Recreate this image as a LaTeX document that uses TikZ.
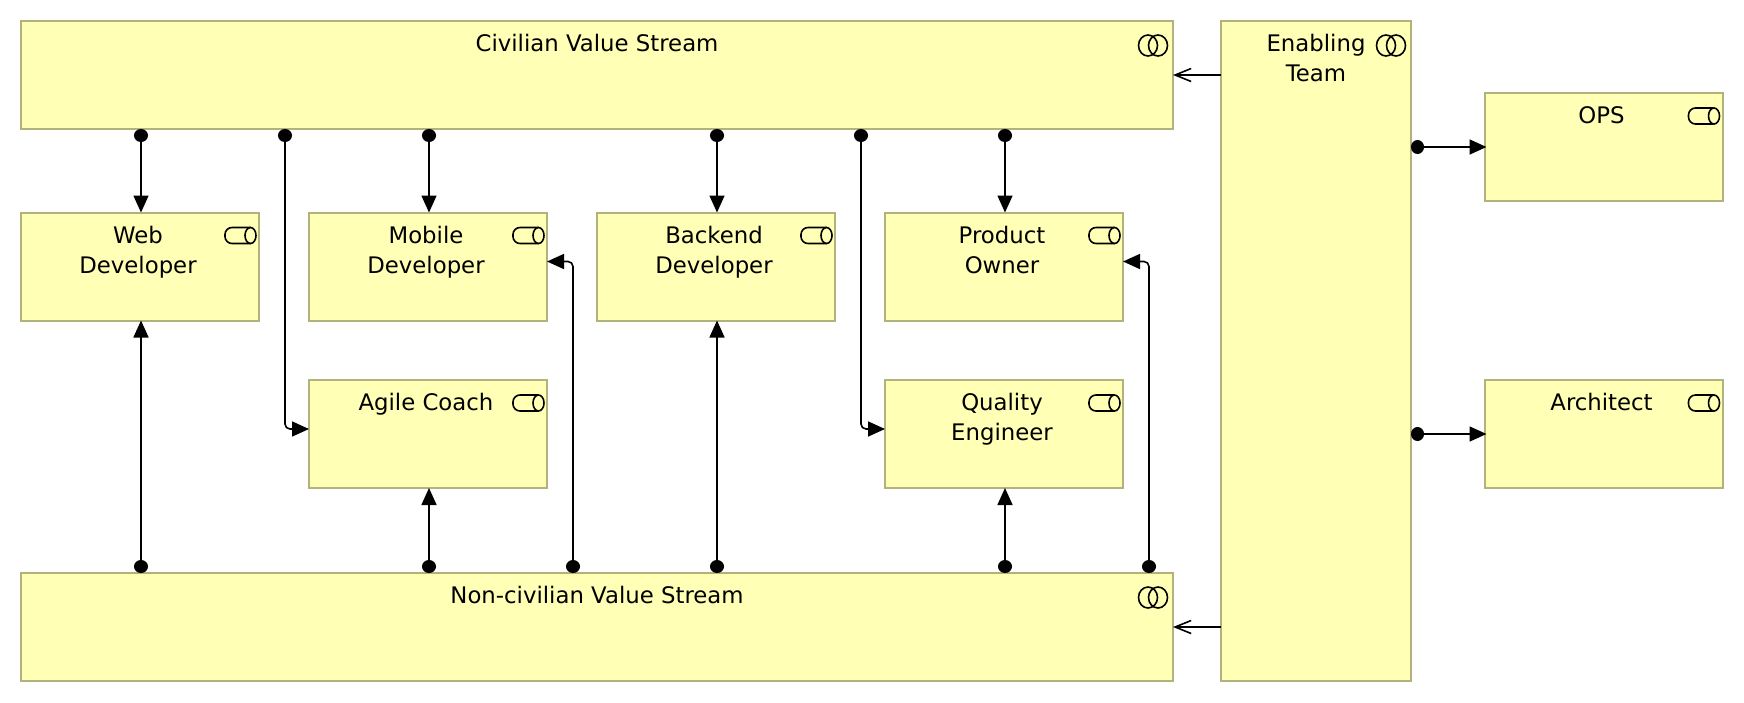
\documentclass[tikz,border=0pt]{standalone}
\usepackage{fontspec}
\setmainfont{DejaVu Sans}
\usetikzlibrary{calc,arrows.meta}
\definecolor{boxfill}{HTML}{FFFFB5}
\definecolor{boxline}{HTML}{B2B27C}
\tikzset{
  unitbox/.style={draw=boxline, fill=boxfill, line width=1pt, inner sep=0pt, outer sep=0pt, minimum width=119pt, minimum height=54pt},
  widebox/.style={unitbox, minimum width=576pt},
  boxtext/.style={anchor=north, align=center, inner sep=0pt, yshift=-6.5pt, font=\fontsize{11.4}{15}\selectfont},
  roletext/.style={boxtext, xshift=-1pt},
  assign/.style={line width=0.8pt, {Circle[length=6.5pt,width=7pt]}-{Triangle[length=8.5pt,width=7.5pt]}, rounded corners=2.5pt},
  serves/.style={line width=0.8pt, -{Straight Barb[length=8pt,width=6.5pt]}},
  roleicon/.pic={
    \draw[line width=0.8pt, rounded corners=3.5pt] (-5.5,0) -- (-31,0) -- (-31,16) -- (-5.5,16);
    \draw[line width=0.8pt] (-5.5,8) ellipse (5.5 and 8);
  },
  collabicon/.pic={
    \draw[line width=0.8pt] (-9.5,10.5) ellipse (9.5 and 10.5);
    \draw[line width=0.8pt] (-19.5,10.5) ellipse (9.5 and 10.5);
  }
}
\begin{document}
\begin{tikzpicture}[x=0.5pt, y=-0.5pt]
  \useasboundingbox (0,0) rectangle (1744,702);

  \node[widebox, label={[boxtext]north:Civilian Value Stream}] (civil) at (597,75) {};
  \node[widebox, label={[boxtext]north:Non-civilian Value Stream}] (noncivil) at (597,627) {};
  \node[unitbox, minimum width=95pt, minimum height=330pt, label={[boxtext]north:Enabling\\Team}] (enable) at (1316,351) {};

  \node[unitbox, label={[roletext]north:Web\\Developer}] (web) at (140,266.5) {};
  \node[unitbox, label={[roletext]north:Mobile\\Developer}] (mobile) at (428,266.5) {};
  \node[unitbox, label={[roletext]north:Backend\\Developer}] (backend) at (716,266.5) {};
  \node[unitbox, label={[roletext]north:Product\\Owner}] (product) at (1004,266.5) {};
  \node[unitbox, label={[roletext]north:Agile Coach}] (agile) at (428,434) {};
  \node[unitbox, label={[roletext]north:Quality\\Engineer}] (quality) at (1004,434) {};
  \node[unitbox, label={[roletext]north:OPS}] (ops) at (1603.5,147) {};
  \node[unitbox, label={[roletext]north:Architect}] (architect) at (1603.5,434) {};

  \foreach \unit in {web,mobile,backend,product,agile,quality,ops,architect}{
    \pic at ($(\unit.north east)+(-3,15)$) {roleicon};
  }
  \foreach \unit in {civil,noncivil,enable}{
    \pic at ($(\unit.north east)+(-5.5,14)$) {collabicon};
  }

  % from the civilian stream
  \foreach \unit in {web,mobile,backend,product}{
    \draw[assign] ([xshift=0.5pt]civil.south -| \unit.north) -- ([xshift=0.5pt]\unit.north);
  }
  \coordinate (agilelane) at ($(web.east)!0.5!(mobile.west)$);
  \coordinate (qualitylane) at ($(backend.east)!0.5!(product.west)$);
  \draw[assign] ([xshift=0.5pt]civil.south -| agilelane) |- ([yshift=2.5pt]agile.west);
  \draw[assign] ([xshift=0.5pt]civil.south -| qualitylane) |- ([yshift=2.5pt]quality.west);

  % from the non-civilian stream
  \foreach \unit in {web,agile,backend,quality}{
    \draw[assign] ([xshift=0.5pt]noncivil.north -| \unit.south) -- ([xshift=0.5pt]\unit.south);
  }
  \coordinate (mobilelane) at ($(mobile.east)!0.5!(backend.west)$);
  \coordinate (productlane) at ($(product.east)+(26,0)$);
  \draw[assign] ([xshift=0.5pt]noncivil.north -| mobilelane) |- ([yshift=2.5pt]mobile.east);
  \draw[assign] (noncivil.north -| productlane) |- ([yshift=2.5pt]product.east);

  % enabling team
  \draw[serves] (enable.west |- civil.east) -- (civil.east);
  \draw[serves] (enable.west |- noncivil.east) -- (noncivil.east);
  \draw[assign] (enable.east |- ops.west) -- ([xshift=1pt]ops.west);
  \draw[assign] (enable.east |- architect.west) -- ([xshift=1pt]architect.west);
\end{tikzpicture}
\end{document}
